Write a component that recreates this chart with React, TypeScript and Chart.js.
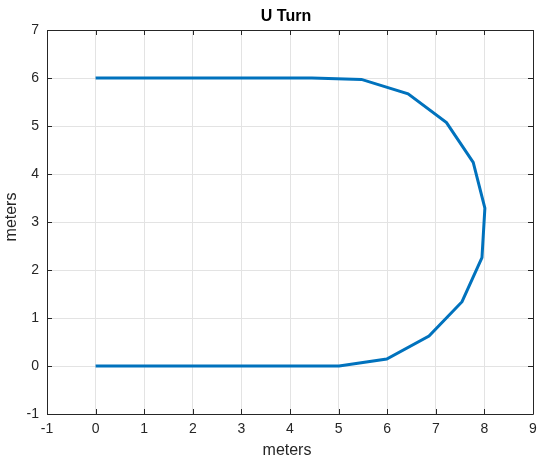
import React, { useEffect, useRef } from "react";
import { Chart, registerables } from "chart.js";

Chart.register(...registerables);

const xValues = [0, 4.45, 5.47, 6.43, 7.22, 7.77, 8.01, 7.95, 7.54, 6.86, 5.99, 5.01, 0];
const yValues = [6, 6, 5.97, 5.67, 5.07, 4.24, 3.29, 2.26, 1.34, 0.625, 0.146, 0, 0];
const xTicks = [-1, 0, 1, 2, 3, 4, 5, 6, 7, 8, 9];
const yTicks = [-1, 0, 1, 2, 3, 4, 5, 6, 7];
const titleText = "U Turn";
const xLabel = "meters";
const yLabel = "meters";

const FONT = "'Liberation Sans', Arial, Helvetica, sans-serif";
const AXIS_COLOR = "#262626";

const boxPlugin = {
  id: "boxTicks",
  afterDraw(chart: any) {
    const { ctx, chartArea } = chart;
    const { left, right, top, bottom } = chartArea;
    const xs = chart.scales.x;
    const ys = chart.scales.y;
    const len = 5;
    ctx.save();
    ctx.strokeStyle = AXIS_COLOR;
    ctx.lineWidth = 1;
    ctx.beginPath();
    ctx.rect(Math.round(left) + 0.5, Math.round(top) + 0.5, Math.round(right - left), Math.round(bottom - top));
    ctx.stroke();
    ctx.beginPath();
    xTicks.forEach((v) => {
      const px = Math.round(xs.getPixelForValue(v)) + 0.5;
      ctx.moveTo(px, bottom);
      ctx.lineTo(px, bottom - len);
      ctx.moveTo(px, top);
      ctx.lineTo(px, top + len);
    });
    yTicks.forEach((v) => {
      const py = Math.round(ys.getPixelForValue(v)) + 0.5;
      ctx.moveTo(left, py);
      ctx.lineTo(left + len, py);
      ctx.moveTo(right, py);
      ctx.lineTo(right - len, py);
    });
    ctx.stroke();

    // title and axis labels
    ctx.textAlign = "center";
    ctx.textBaseline = "middle";
    ctx.fillStyle = "#000";
    ctx.font = `bold 16px ${FONT}`;
    ctx.fillText(titleText, 286, 17);
    ctx.fillStyle = AXIS_COLOR;
    ctx.font = `16px ${FONT}`;
    ctx.fillText(xLabel, 287, 451);
    ctx.translate(12, 217);
    ctx.rotate(-Math.PI / 2);
    ctx.fillText(yLabel, 0, 0);
    ctx.restore();
  },
};

export default function App() {
  const ref = useRef<HTMLCanvasElement | null>(null);
  useEffect(() => {
    if (!ref.current) return;
    const chart = new Chart(ref.current, {
      type: "scatter",
      data: {
        datasets: [
          {
            data: xValues.map((x, i) => ({ x, y: yValues[i] })),
            showLine: true,
            borderColor: "#0072BD",
            backgroundColor: "#0072BD",
            borderWidth: 3,
            pointRadius: 0,
            tension: 0,
            borderJoinStyle: "miter" as any,
          },
        ],
      },
      options: {
        animation: false,
        responsive: false,
        layout: { padding: { left: 0, right: 17, top: 30, bottom: 0 } },
        plugins: {
          legend: { display: false },
          tooltip: { enabled: false },
          title: { display: false },
        },
        scales: {
          x: {
            type: "linear",
            min: -1,
            max: 9,
            afterFit: (s: any) => {
              s.height = 54;
            },
            afterBuildTicks: (s: any) => {
              s.ticks = xTicks.map((v) => ({ value: v }));
            },
            ticks: {
              color: AXIS_COLOR,
              font: { family: FONT, size: 14 },
              padding: 7,
              maxRotation: 0,
            },
            grid: { color: "#e3e3e3", drawTicks: false },
            border: { display: false },
          },
          y: {
            type: "linear",
            min: -1,
            max: 7,
            afterFit: (s: any) => {
              s.width = 47;
            },
            afterBuildTicks: (s: any) => {
              s.ticks = yTicks.map((v) => ({ value: v }));
            },
            ticks: {
              color: AXIS_COLOR,
              font: { family: FONT, size: 14 },
              padding: 8,
            },
            grid: { color: "#e3e3e3", drawTicks: false },
            border: { display: false },
          },
        },
      },
      plugins: [boxPlugin],
    });
    return () => chart.destroy();
  }, []);
  return (
    <div style={{ position: "absolute", left: 0, top: 0, width: 550, height: 468, background: "#fff" }}>
      <canvas ref={ref} width={550} height={468} style={{ width: 550, height: 468 }} />
    </div>
  );
}
